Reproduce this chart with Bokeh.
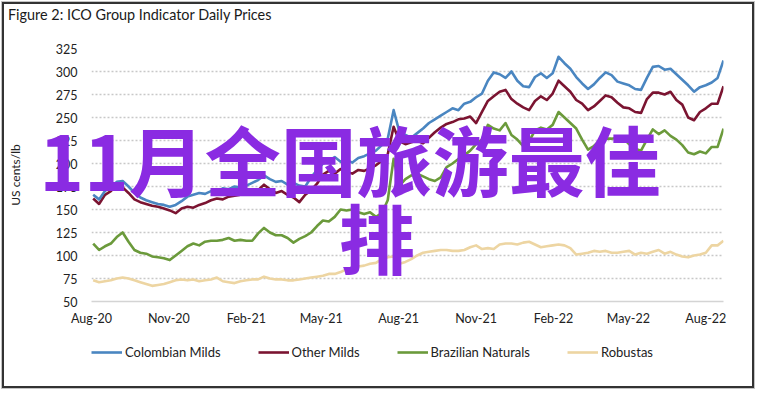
import pandas as pd
from bokeh.plotting import figure
from bokeh.layouts import column
from bokeh.models import (Range1d, FixedTicker, SingleIntervalTicker, Legend,
                          LegendItem, Div, DatetimeTickFormatter)
from bokeh.embed import file_html
from bokeh.resources import INLINE

title_text = "Figure 2: ICO Group Indicator Daily Prices"
y_label = "US cents/lb"
overlay_line1 = "11月全国旅游最佳"
overlay_line2 = "排"

dates = pd.date_range("2020-08-03", periods=108, freq="7D")

colombian = [166, 161, 170, 175, 180, 181, 175, 168, 163, 160,
             158, 156, 155, 153, 155, 159, 164, 166, 168, 167,
             170, 169, 173, 172, 175, 174, 176, 179, 182, 187,
             183, 180, 181, 177, 179, 176, 175, 185, 193, 200,
             203, 207, 202, 204, 201, 206, 208, 211, 214, 220,
             227, 258, 234, 231, 228, 233, 238, 244, 248, 252,
             256, 260, 258, 265, 267, 272, 276, 290, 299, 297,
             293, 300, 290, 284, 283, 294, 298, 293, 298, 316,
             309, 303, 294, 287, 281, 286, 293, 299, 296, 289,
             287, 285, 281, 280, 293, 305, 306, 302, 303, 297,
             291, 285, 278, 283, 285, 288, 293, 312]

other_milds = [162, 156, 166, 170, 177, 174, 168, 161, 158, 156,
               154, 153, 151, 149, 146, 151, 153, 152, 155, 157,
               160, 162, 161, 164, 165, 166, 167, 168, 171, 177,
               172, 168, 170, 166, 163, 158, 166, 171, 178, 188,
               192, 189, 194, 191, 189, 193, 192, 195, 198, 203,
               210, 240, 224, 221, 223, 225, 222, 228, 234, 239,
               243, 245, 248, 249, 251, 244, 256, 268, 273, 278,
               280, 270, 265, 261, 258, 268, 273, 269, 276, 290,
               284, 278, 269, 265, 258, 262, 268, 274, 272, 266,
               261, 260, 256, 255, 270, 277, 277, 275, 278, 269,
               264, 250, 247, 256, 260, 265, 265, 284]

brazilian = [113, 106, 110, 113, 120, 125, 115, 106, 103, 102,
             99, 98, 97, 95, 100, 105, 110, 113, 111, 115,
             116, 116, 117, 119, 116, 117, 116, 116, 124, 130,
             125, 122, 122, 119, 114, 118, 121, 125, 132, 138,
             137, 142, 150, 149, 150, 147, 145, 147, 142, 146,
             160, 205, 176, 183, 187, 189, 186, 183, 181, 185,
             196, 200, 205, 209, 214, 221, 226, 242, 238, 236,
             244, 231, 226, 219, 224, 236, 239, 237, 242, 256,
             250, 244, 238, 226, 215, 219, 225, 227, 227, 228,
             227, 221, 216, 214, 226, 237, 232, 236, 230, 226,
             220, 212, 210, 213, 211, 218, 218, 238]

robustas = [73, 71, 72, 73, 75, 76, 75, 73, 71, 69,
            67, 68, 69, 71, 73, 74, 73, 74, 72, 73,
            74, 76, 72, 71, 70, 72, 73, 74, 74, 77,
            75, 74, 74, 73, 73, 74, 75, 76, 77, 78,
            80, 80, 82, 85, 87, 88, 89, 91, 92, 96,
            98, 99, 91, 93, 96, 100, 103, 104, 105, 106,
            106, 105, 105, 106, 109, 111, 107, 108, 107, 112,
            113, 113, 112, 114, 115, 112, 109, 110, 111, 112,
            111, 108, 101, 102, 103, 105, 104, 105, 103, 103,
            104, 105, 101, 103, 102, 104, 106, 102, 104, 101,
            99, 98, 100, 101, 103, 111, 111, 116]

series_names = ["Colombian Milds", "Other Milds", "Brazilian Naturals", "Robustas"]
series_values = [colombian, other_milds, brazilian, robustas]
series_colors = ["#4a86c1", "#7b1431", "#6b9a3b", "#edd5a2"]

tick_dates = ["2020-08-01", "2020-11-01", "2021-02-01", "2021-05-01", "2021-08-01",
              "2021-11-01", "2022-02-01", "2022-05-01", "2022-08-01"]
tick_labels = ["Aug-20", "Nov-20", "Feb-21", "May-21", "Aug-21",
               "Nov-21", "Feb-22", "May-22", "Aug-22"]
x_start, x_end = "2020-08-01", "2022-08-22"
y_min, y_max, y_step = 50, 325, 25

FONT = "Lato"
W = 748

# ---- title (HTML text above the chart) ----
title_div = Div(text=title_text, width=W, height=30, margin=0,
                styles={"font-family": FONT, "font-size": "14.4px", "color": "#1a1a1a",
                        "line-height": "17px", "padding-left": "4px", "padding-top": "2px",
                        "box-sizing": "border-box", "background": "white"})

# ---- main chart ----
p = figure(width=W, height=303, x_axis_type="datetime",
           output_backend="svg", toolbar_location=None,
           x_range=Range1d(pd.Timestamp(x_start), pd.Timestamp(x_end)),
           y_range=Range1d(y_min, y_max),
           min_border_left=82, min_border_right=29,
           min_border_top=14, min_border_bottom=36,
           background_fill_color="white", border_fill_color="white")
p.outline_line_color = None

tick_ms = [float(pd.Timestamp(d).value // 10**6) for d in tick_dates]
p.xaxis.ticker = FixedTicker(ticks=tick_ms)
p.xaxis.formatter = DatetimeTickFormatter(months="%b-%y", days="%b-%y", years="%b-%y")
p.xaxis.major_label_overrides = {t: l for t, l in zip(tick_ms, tick_labels)}
p.yaxis.ticker = SingleIntervalTicker(interval=y_step)

for ax in (p.xaxis[0], p.yaxis[0]):
    ax.major_tick_line_color = None
    ax.minor_tick_line_color = None
    ax.major_tick_out = 0
    ax.major_tick_in = 0
    ax.minor_tick_out = 0
    ax.minor_tick_in = 0
    ax.major_label_text_font = FONT
    ax.major_label_text_font_size = "12.5px"
    ax.major_label_text_color = "#222222"
p.yaxis.axis_line_color = None
p.xaxis.axis_line_color = "#d4d4d4"
p.xaxis.axis_line_width = 1.5
p.xaxis.major_label_standoff = 9
p.yaxis.major_label_standoff = 14
p.yaxis.axis_label = y_label
p.yaxis.axis_label_text_font = FONT
p.yaxis.axis_label_text_font_style = "normal"
p.yaxis.axis_label_text_font_size = "12px"
p.yaxis.axis_label_text_color = "#222222"
p.yaxis.axis_label_standoff = 30

p.xgrid.grid_line_color = None
p.ygrid.grid_line_color = "#c8c8c8"
p.ygrid.grid_line_width = 1.5
p.ygrid.grid_line_dash = "2 2"

for name, vals, col in reversed(list(zip(series_names, series_values, series_colors))):
    p.line(dates, vals, line_color=col, line_width=2.6, line_join="round")

# ---- legend strip (same series, drawn outside its view so only the key shows) ----
pl = figure(width=W, height=49, output_backend="svg", toolbar_location=None,
            x_range=Range1d(pd.Timestamp(x_start), pd.Timestamp(x_end)),
            y_range=Range1d(1000, 1001), x_axis_location=None, y_axis_location=None,
            min_border=0, background_fill_color="white", border_fill_color="white")
pl.outline_line_color = None
pl.xgrid.visible = False
pl.ygrid.visible = False
leg_r = {}
for name, vals, col in zip(series_names, series_values, series_colors):
    leg_r[name] = pl.line(dates, vals, line_color=col, line_width=2.6)

legend = Legend(items=[LegendItem(label=n, renderers=[leg_r[n]]) for n in series_names],
                orientation="horizontal", location=(0, 24),
                padding=0, margin=0, spacing=37, label_standoff=3,
                glyph_width=31, glyph_height=20, label_height=20, label_width=10,
                border_line_color=None, background_fill_alpha=0,
                label_text_font=FONT, label_text_font_size="13px",
                label_text_color="#222222")
pl.add_layout(legend)

layout = column(title_div, p, pl, spacing=0,
                styles={"margin-left": "4px", "margin-top": "4px",
                        "outline": "2px solid #333333",
                        "box-shadow": "0 0 0 3px #c4c4c4"})

# ---- overlay caption ----
ov_style = {"position": "absolute", "z-index": "10", "white-space": "nowrap",
            "font-family": "'Noto Sans CJK SC'", "font-weight": "bold",
            "font-size": "76px", "line-height": "76px", "color": "#8a2be2",
            "text-align": "center", "width": "700px"}
ov1 = Div(text=overlay_line1, styles=dict(ov_style, left="-5px", top="115px"))
ov2 = Div(text=overlay_line2, styles=dict(ov_style, left="22px", top="193px"))

open("out.html", "w").write(file_html([layout, ov1, ov2], INLINE))
